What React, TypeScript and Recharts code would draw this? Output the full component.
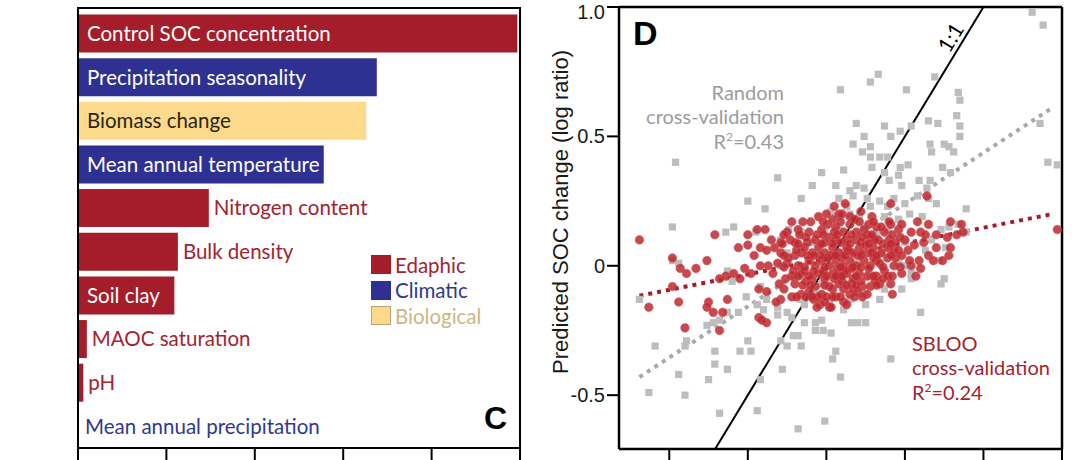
import React from "react";
import {
  BarChart, Bar, XAxis, YAxis, Cell, LabelList, Legend,
  ScatterChart, Scatter, ReferenceLine,
} from "recharts";

// ---------- Panel C data ----------
const categories = [
  "Control SOC concentration",
  "Precipitation seasonality",
  "Biomass change",
  "Mean annual temperature",
  "Nitrogen content",
  "Bulk density",
  "Soil clay",
  "MAOC saturation",
  "pH",
  "Mean annual precipitation",
];
const importance = [4.97, 3.38, 3.26, 2.78, 1.48, 1.13, 1.09, 0.1, 0.06, 0];
const groups = [
  "Edaphic", "Climatic", "Biological", "Climatic", "Edaphic",
  "Edaphic", "Edaphic", "Edaphic", "Edaphic", "Climatic",
];
const labelInside = [true, true, true, true, false, false, true, false, false, false];
const groupNames = ["Edaphic", "Climatic", "Biological"];
const importanceTicks = [0, 1, 2, 3, 4, 5];

// ---------- Panel D data ----------
const randomCV: [number, number][] = [
  [1.31,0.98],[1.38,0.93],[0.33,0.74],[0.28,0.71],[0.09,0.68],[0.69,0.73],[0.51,0.68],[0.84,0.67],[0.85,0.64],[0.83,0.58],[0.85,0.54],[0.85,0.50],[0.78,0.46],[1.36,0.55],[1.41,0.40],[1.47,0.39],
  [0.19,0.55],[0.24,0.50],[0.17,0.47],[0.28,0.46],[0.37,0.54],[0.41,0.50],[0.47,0.52],[0.54,0.54],[0.65,0.56],[0.71,0.55],[0.66,0.47],[0.75,0.47],[0.67,0.44],[0.81,0.44],
  [0.23,0.44],[0.28,0.42],[0.34,0.42],[0.29,0.38],[0.39,0.42],[0.47,0.38],[0.52,0.39],[0.37,0.36],[0.46,0.35],[0.48,0.31],[0.40,0.33],
  [0.11,0.37],[-0.03,0.36],[-0.31,0.34],[-0.09,0.31],[-0.16,0.26],[-0.96,0.40],[-0.50,0.25],[-0.39,0.22],[0.74,0.38],[0.79,0.36],[0.66,0.33],[0.64,0.30],[0.59,0.33],[0.58,0.27],[0.89,0.22],[0.70,0.24],[0.65,0.26],
  [0.06,0.31],[0.15,0.29],[0.19,0.31],[0.24,0.30],[0.08,0.26],[0.13,0.23],[0.17,0.27],[0.26,0.26],[0.28,0.23],[0.34,0.25],[0.39,0.23],[0.43,0.26],[0.50,0.24],[0.53,0.20],[0.03,0.21],[0.08,0.19],[0.15,0.20],[0.21,0.19],[0.37,0.19],[0.46,0.18],[0.61,0.19],
  [-0.98,0.15],[-0.59,0.15],[-0.64,0.13],[-0.45,0.13],[-0.29,0.10],[-0.24,0.14],[-0.16,0.13],[-0.98,0.02],[-0.94,0.01],[-0.63,-0.02],[-0.60,-0.06],[-0.42,-0.08],[-0.51,-0.12],[-0.44,-0.15],[-0.40,-0.17],[-0.63,-0.18],[-0.56,-0.18],[-0.72,-0.22],[-0.76,-0.23],[-0.68,-0.21],[-1.19,-0.13],[-1.09,-0.31],[-0.89,-0.29],[-0.90,-0.31],[-0.94,-0.42],[-1.13,-0.49],[-0.90,-0.50],[-0.75,-0.44],[-0.71,-0.38],[-0.71,-0.33],[-0.63,-0.40],[-0.55,-0.33],[-0.50,-0.29],[-0.48,-0.33],[-0.42,-0.44],[-0.68,-0.57],[-0.44,-0.56],
  [-0.29,-0.29],[-0.28,-0.40],[-0.21,-0.27],[-0.18,-0.27],[-0.25,-0.31],[-0.16,-0.31],[-0.07,-0.25],[-0.02,-0.25],[0.03,-0.26],[0.06,-0.33],[0.04,-0.36],[0.09,-0.43],[-0.01,-0.60],[-0.18,-0.63],[-0.14,-0.22],[-0.07,-0.22],[-0.03,-0.21],[0.16,-0.22],[0.20,-0.22],[0.25,-0.22],[0.41,-0.36],[0.34,-0.13],[0.25,-0.15],[0.60,-0.18],[0.73,-0.07],[0.75,-0.05],[0.72,0.02],[0.63,0.06],[0.54,-0.03],[0.54,-0.05],[0.50,0.00],[0.46,0.01],
  [-0.07,-0.11],[-0.16,-0.13],[-0.25,-0.18],[-0.31,-0.19],[-0.31,-0.16],[-0.38,-0.13],[-0.22,-0.20],[-0.14,-0.15],[0.02,-0.15],[0.11,-0.17],[0.15,-0.13],[0.24,-0.11],
  [0.73,0.14],[0.78,0.15],[0.89,0.13],[0.84,0.16],[0.67,0.10],[0.76,0.07],[0.50,0.09],
  [-0.25,0.05],[-0.16,0.07],[-0.09,0.09],[-0.01,0.13],[0.08,0.14],[0.24,0.15],[0.32,0.13],[0.39,0.14],[0.11,0.05],[0.19,0.01],[0.35,0.05],[0.43,0.05],[-0.29,0.00],[-0.18,-0.04],[-0.03,-0.07],[0.28,-0.04],[0.37,-0.09],[0.48,-0.09],
];

const sblooCV: [number, number][] = [
  [-1.19,0.10],[-1.13,-0.16],[-0.98,0.03],[-0.93,-0.01],[-0.89,-0.03],[-0.94,-0.14],[-0.98,-0.08],[-0.90,-0.24],[-0.83,-0.01],[-0.76,0.02],[-0.71,0.12],[-0.68,-0.05],[-0.64,-0.04],[-0.75,-0.14],[-0.72,-0.18],[-0.66,-0.18],[-0.68,-0.25],[-0.76,-0.16],[-0.63,-0.13],
  [-0.56,0.07],[-0.50,0.12],[-0.50,0.08],[-0.44,0.14],[-0.39,0.14],[-0.42,0.07],[-0.38,0.06],[-0.42,0.00],[-0.59,-0.03],[-0.55,-0.05],[-0.48,-0.03],[-0.43,-0.09],[-0.38,-0.10],[-0.43,-0.20],[-0.38,-0.22],
  [-0.29,-0.13],[-0.32,-0.14],[-0.27,-0.09],[-0.22,-0.12],[-0.16,-0.11],[-0.08,-0.13],[-0.04,-0.15],[0.02,-0.16],[0.11,-0.14],[0.04,-0.09],[0.08,-0.07],[0.16,-0.07],[0.23,-0.08],[0.28,-0.08],[0.34,-0.07],[0.41,-0.07],[0.42,-0.11],
  [0.32,-0.04],[0.37,-0.02],[0.43,0.00],[0.48,-0.03],[0.54,0.00],[0.59,0.02],[0.60,-0.01],[0.65,0.04],[0.70,0.07],[0.78,0.04],[0.79,0.07],[0.77,0.11],[0.83,0.12],[0.87,0.13],[0.79,0.17],[0.86,0.16],[0.65,0.16],[0.58,0.17],[0.60,0.13],[0.54,0.13],[0.50,0.10],[0.46,0.14],[0.41,0.16],[0.64,0.27],[0.41,0.24],[1.47,0.14],
  [-0.10,0.17],[-0.18,0.14],[-0.29,0.09],[-0.25,0.13],[-0.33,0.07],[-0.29,0.05],[-0.37,0.00],[-0.31,0.01],[-0.25,0.01],[-0.20,0.04],[-0.16,0.05],
  [-0.11,0.13],[-0.07,0.10],[-0.03,0.14],[0.02,0.11],[0.06,0.15],[0.11,0.13],[0.15,0.16],[0.19,0.13],[0.24,0.14],[0.28,0.11],[0.32,0.15],[0.37,0.13],
  [-0.14,0.07],[-0.09,0.05],[-0.05,0.07],[-0.01,0.05],[0.04,0.07],[0.08,0.05],[0.13,0.07],[0.17,0.05],[0.21,0.07],[0.26,0.05],[0.30,0.07],[0.35,0.05],[0.39,0.07],[0.43,0.06],
  [-0.11,0.02],[-0.07,0.00],[-0.03,0.02],[0.02,0.00],[0.06,0.02],[0.11,0.00],[0.15,0.02],[0.19,0.00],[0.24,0.02],[0.28,0.00],[0.32,0.02],
  [-0.16,-0.03],[-0.09,-0.05],[-0.05,-0.03],[-0.01,-0.05],[0.04,-0.03],[0.08,-0.04],[0.13,-0.03],[0.17,-0.05],[0.21,-0.03],[0.26,-0.04],
  [-0.07,-0.08],[-0.03,-0.11],[0.02,-0.08],[0.06,-0.12],[0.11,-0.09],[0.15,-0.11],[-0.18,0.00],[-0.22,-0.04],[-0.20,-0.07],
  [0.08,0.20],[0.04,0.18],[0.00,0.20],[0.15,0.19],[0.19,0.10],[0.06,0.10],[-0.01,0.09],
  [-0.12,0.09],[0.00,0.03],[0.09,0.09],[0.12,-0.02],[0.22,0.09],[0.30,0.03],[0.17,-0.09],[-0.05,-0.12],[0.33,0.10],[0.26,0.12],[0.44,0.03],[0.05,-0.05],[-0.14,-0.02],[0.36,-0.05],[0.52,0.06],[0.56,0.08],[0.47,0.11],[0.62,0.09],[0.70,0.12],[0.74,0.02],[-0.26,-0.05],[-0.23,0.10],[0.10,0.20],[0.12,0.24],
  [0.03,-0.16],[-0.06,-0.16],[-0.41,-0.21],
  [-0.20,0.09],[-0.13,0.11],[-0.06,0.12],[0.01,0.16],[0.05,0.13],[0.13,0.10],[0.18,0.18],[0.23,0.11],[0.27,0.16],[0.31,0.10],[0.35,0.15],[0.40,0.10],[0.44,0.09],
  [-0.24,0.03],[-0.19,0.06],[-0.12,0.04],[-0.04,0.04],[0.03,0.04],[0.10,0.03],[0.14,0.06],[0.20,0.04],[0.25,0.08],[0.29,0.05],[0.34,0.01],[0.39,0.03],[0.46,0.06],
  [-0.21,-0.02],[-0.13,-0.06],[-0.08,-0.02],[-0.02,-0.02],[0.07,-0.01],[0.10,-0.06],[0.16,-0.01],[0.22,-0.06],[0.27,-0.01],[0.31,-0.06],[0.39,-0.04],
  [-0.11,-0.10],[-0.01,-0.14],[0.09,-0.12],[0.13,-0.15],[0.20,-0.10],[0.26,-0.11],
  [-0.35,0.10],[-0.46,0.04],[-0.52,-0.01],[-0.30,-0.07],[-0.34,-0.03],[0.48,0.16],[0.53,0.02],[0.57,-0.04],[0.63,0.12],[0.68,0.02],[0.05,0.23],[-0.05,0.19],[0.22,0.21],[0.29,0.19],
  [-0.22,0.17],[-0.15,0.17],[-0.02,0.17],[0.09,0.17],[0.21,0.17],[0.30,0.17],[0.40,0.17],
  [-0.27,0.12],[-0.17,0.12],[-0.02,0.12],[0.07,0.12],[0.16,0.12],[0.29,0.12],[0.42,0.12],
  [-0.28,0.085],[-0.18,0.085],[-0.03,0.085],[0.04,0.085],[0.15,0.085],[0.27,0.085],[0.36,0.085],[0.41,0.085],
  [-0.27,0.04],[-0.08,0.04],[0.06,0.04],[0.12,0.04],[0.22,0.04],[0.32,0.04],[0.41,0.04],[0.48,0.04],
  [-0.27,-0.005],[-0.14,-0.005],[-0.01,-0.005],[0.09,-0.005],[0.17,-0.005],[0.22,-0.005],[0.36,-0.005],[0.47,-0.005],
  [-0.18,-0.04],[-0.11,-0.04],[0.00,-0.04],[0.06,-0.04],[0.10,-0.04],[0.19,-0.04],[0.30,-0.04],[0.42,-0.04],
  [-0.15,-0.075],[-0.10,-0.075],[-0.01,-0.075],[0.13,-0.075],[0.19,-0.075],[0.32,-0.075],
  [-0.19,-0.12],[-0.13,-0.12],[-0.09,-0.12],[0.00,-0.12],[0.04,-0.12],[0.18,-0.12],[0.23,-0.12],
];

const randomFit = [[-1.19, -0.43], [1.45, 0.615]];
const sblooFit = [[-1.19, -0.116], [1.44, 0.2]];
const oneToOne = [[-0.708, -0.708], [1.0, 1.0]];
const xTicks = [-1, -0.5, 0, 0.5, 1, 1.5];
const yTicks = [-0.5, 0, 0.5, 1];
const yTickLabels = ["-0.5", "0", "0.5", "1.0"];

// ---------- styling ----------
const RED = "#a51d2b";
const BLUE = "#2e3192";
const YELLOW = "#fcd98b";
const groupFill: Record<string, string> = { Edaphic: RED, Climatic: BLUE, Biological: YELLOW };
const groupText: Record<string, string> = { Edaphic: "#a3232f", Climatic: "#2f3a8c", Biological: "#cbb783" };
const TXT_FONT = "Lato, 'Open Sans', sans-serif";
const AX_FONT = "'Liberation Sans', Arial, sans-serif";
const BOLD_FONT = "'Liberation Sans Narrow', 'Liberation Sans', Arial, sans-serif";

const barData = categories.map((name, i) => ({ name, value: importance[i], group: groups[i] }));
const randomData = randomCV.map(([x, y]) => ({ x, y }));
const sblooData = sblooCV.map(([x, y]) => ({ x, y }));
const seg = (s: number[][]) => [{ x: s[0][0], y: s[0][1] }, { x: s[1][0], y: s[1][1] }];

const renderBarLabel = (props: any) => {
  const idx = categories.indexOf(props.value);
  if (idx < 0) return null;
  const x = Number(props.x);
  const y = Number(props.y);
  const w = Number(props.width) || 0;
  const h = Number(props.height) || 0;
  const inside = labelInside[idx];
  const g = groups[idx];
  const fill = inside ? (g === "Biological" ? "#2b2513" : "#ffffff") : groupText[g];
  const tx = inside ? x + 9 : x + w + (w < 1 ? 7 : 5);
  return (
    <text x={tx} y={y + h / 2} dy="0.36em" fill={fill} fontSize={20.5} fontFamily={TXT_FONT}>
      {props.value}
    </text>
  );
};

const renderLegend = () => (
  <div style={{ fontFamily: TXT_FONT, fontSize: 20.5 }}>
    {groupNames.map((g) => (
      <div key={g} style={{ display: "flex", alignItems: "center", height: 25.5 }}>
        <span
          style={{
            display: "inline-block", width: 20, height: 19, background: groupFill[g],
            boxSizing: "border-box", border: g === "Biological" ? "1px solid #b9a676" : "none",
            marginRight: 4,
          }}
        />
        <span style={{ color: groupText[g] }}>{g}</span>
      </div>
    ))}
  </div>
);

const Sup2 = () => (
  <span style={{ fontSize: "0.6em", position: "relative", top: "-0.6em" }}>2</span>
);

const GraySquare = (p: any) => (
  <rect x={p.cx - 3.6} y={p.cy - 3.6} width={7.2} height={7.2} fill="#bdbdbd" />
);
const RedDot = (p: any) => (
  <circle cx={p.cx} cy={p.cy} r={4.3} fill="#c0282e" fillOpacity={0.85} stroke="#cc5a5f" strokeWidth={0.6} />
);

export default function App() {
  return (
    <div style={{ position: "absolute", left: 0, top: 0, width: 1080, height: 460, overflow: "hidden", background: "#fff" }}>
      {/* Panel C */}
      <div style={{ position: "absolute", left: 0, top: 0 }}>
        <BarChart
          width={540}
          height={460}
          data={barData}
          layout="vertical"
          margin={{ top: 11.5, right: 20, bottom: 0, left: 78 }}
          barSize={38}
        >
          <XAxis
            type="number"
            domain={[0, 5]}
            ticks={importanceTicks}
            height={12}
            tickSize={14}
            axisLine={false}
            tickLine={{ stroke: "#000", strokeWidth: 2 }}
            tickFormatter={() => ""}
          />
          <YAxis type="category" dataKey="name" hide width={0} />
          <Legend
            content={renderLegend}
            layout="horizontal"
            verticalAlign="middle"
            align="center"
            wrapperStyle={{ position: "absolute", left: 371, top: 252, width: 140 }}
          />
          <Bar dataKey="value" isAnimationActive={false} minPointSize={0.01}>
            {barData.map((d) => (
              <Cell key={d.name} fill={groupFill[d.group]} />
            ))}
            <LabelList dataKey="name" content={renderBarLabel} />
          </Bar>
        </BarChart>
        <div
          style={{
            position: "absolute", left: 77, top: 7, width: 444, height: 442,
            border: "2.5px solid #000", boxSizing: "border-box", pointerEvents: "none",
          }}
        />
        <div
          style={{
            position: "absolute", left: 484, top: 402, fontFamily: BOLD_FONT,
            fontWeight: 700, fontSize: 32, lineHeight: "32px", color: "#000",
          }}
        >
          C
        </div>
      </div>

      {/* Panel D */}
      <div style={{ position: "absolute", left: 540, top: 0 }}>
        <ScatterChart width={540} height={460} margin={{ top: 7, right: 18, bottom: 0, left: 19 }}>
          <XAxis
            type="number"
            dataKey="x"
            domain={[-1.32, 1.5]}
            ticks={xTicks}
            height={11}
            tickSize={14}
            axisLine={{ stroke: "#000", strokeWidth: 2.5 }}
            tickLine={{ stroke: "#000", strokeWidth: 2 }}
            tickFormatter={() => ""}
            allowDataOverflow
          />
          <YAxis
            type="number"
            dataKey="y"
            domain={[-0.708, 1.0]}
            ticks={yTicks}
            width={60}
            tickSize={12}
            axisLine={{ stroke: "#000", strokeWidth: 2.5 }}
            tickLine={{ stroke: "#000", strokeWidth: 2 }}
            tick={{ fill: "#1a1a1a", fontSize: 20, fontFamily: AX_FONT }}
            tickFormatter={(v: number) => yTickLabels[yTicks.indexOf(v)] ?? String(v)}
            allowDataOverflow
          />
          <Scatter data={randomData} shape={GraySquare} isAnimationActive={false} />
          <Scatter data={sblooData} shape={RedDot} isAnimationActive={false} />
          <ReferenceLine segment={seg(randomFit)} stroke="#a9a9a9" strokeWidth={4} strokeDasharray="4 5" ifOverflow="visible" />
          <ReferenceLine segment={seg(sblooFit)} stroke="#a51d2b" strokeWidth={4} strokeDasharray="4 5" ifOverflow="visible" />
          <ReferenceLine segment={seg(oneToOne)} stroke="#000" strokeWidth={2} ifOverflow="visible" />
          <ReferenceLine y={1.0} stroke="#000" strokeWidth={2.5} ifOverflow="visible" />
          <ReferenceLine x={1.5} stroke="#000" strokeWidth={2.5} ifOverflow="visible" />
        </ScatterChart>
      </div>

      {/* Panel D annotations */}
      <div
        style={{
          position: "absolute", left: 561, top: 212, transform: "translate(-50%, -50%) rotate(-90deg)",
          whiteSpace: "nowrap", fontFamily: AX_FONT, fontSize: 22, color: "#1a1a1a",
        }}
      >
        Predicted SOC change (log ratio)
      </div>
      <div
        style={{
          position: "absolute", left: 633, top: 16, fontFamily: BOLD_FONT,
          fontWeight: 700, fontSize: 34, lineHeight: "34px", color: "#000",
        }}
      >
        D
      </div>
      <div
        style={{
          position: "absolute", left: 950, top: 37, transform: "translate(-50%, -50%) rotate(-58.7deg)",
          whiteSpace: "nowrap", fontFamily: TXT_FONT, fontSize: 21, lineHeight: "21px", color: "#000",
        }}
      >
        1:1
      </div>
      <div
        style={{
          position: "absolute", right: 1080 - 784, top: 80, textAlign: "right", fontFamily: TXT_FONT,
          fontSize: 20, lineHeight: "24.3px", color: "#9c9c9c", whiteSpace: "nowrap",
        }}
      >
        <div>Random</div>
        <div>cross-validation</div>
        <div>R<Sup2 />=0.43</div>
      </div>
      <div
        style={{
          position: "absolute", left: 912, top: 331, textAlign: "left", fontFamily: TXT_FONT,
          fontSize: 20, lineHeight: "24.3px", color: "#a3232f", whiteSpace: "nowrap",
        }}
      >
        <div>SBLOO</div>
        <div>cross-validation</div>
        <div>R<Sup2 />=0.24</div>
      </div>
    </div>
  );
}
